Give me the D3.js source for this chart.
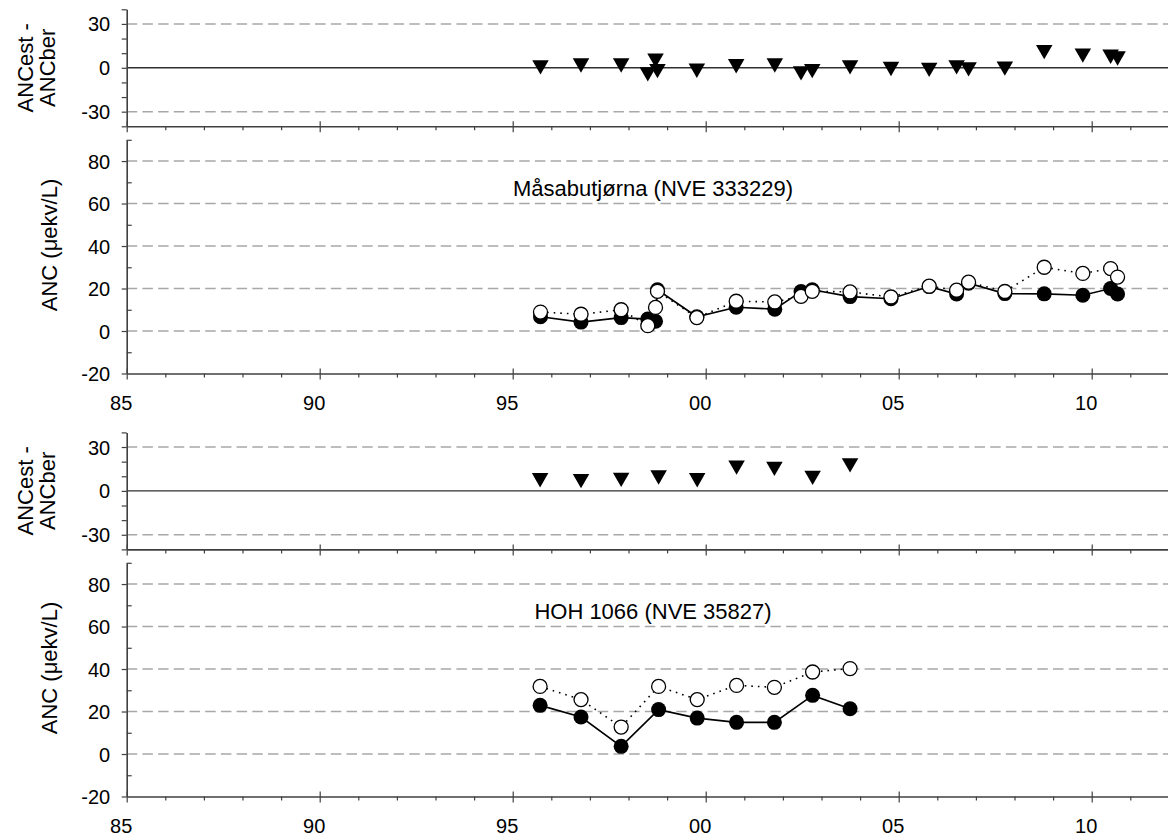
<!DOCTYPE html>
<html><head><meta charset="utf-8">
<script src="https://cdn.jsdelivr.net/npm/d3@7"></script>
<style>
body{margin:0;background:#fff}
svg{display:block}
text{font-family:"Liberation Sans", Arial, sans-serif; fill:#000}
</style>
</head><body>
<svg id="chart" width="1168" height="837"></svg>
<script>
// ---------------- data ----------------
const yearDomain = [85, 112];
const yearMajorTicks = [85, 90, 95, 100, 105, 110];
const yearTickLabels = ["85", "90", "95", "00", "05", "10"];
const diffTickValues = [-30, 0, 30];
const ancTickValues = [-20, 0, 20, 40, 60, 80];

const site1Name = "Måsabutjørna (NVE 333229)";
const site1Years = [95.72, 96.77, 97.81, 98.50, 98.70, 98.75, 99.77, 100.79, 101.79, 102.47, 102.76,
                    103.74, 104.80, 105.79, 106.50, 106.81, 107.75, 108.77, 109.77, 110.49, 110.67];
const site1Est   = [8.9, 7.9, 10.0, 2.5, 11.1, 18.7, 6.3, 14.0, 13.7, 16.3, 18.7,
                    18.4, 16.0, 21.1, 19.2, 23.0, 18.6, 30.0, 27.1, 29.4, 25.4];
const site1Ber   = [6.7, 4.2, 6.3, 5.6, 4.6, 19.4, 6.7, 11.2, 10.3, 18.6, 19.4,
                    16.2, 15.2, 20.9, 17.4, 22.5, 17.6, 17.5, 16.8, 20.0, 17.4];
const site1Diff  = [1.9, 3.2, 3.2, -2.9, 6.6, -0.7, -0.4, 2.7, 3.2, -2.2, -0.7,
                    1.9, 0.8, 0.2, 1.9, 0.5, 1.1, 12.3, 9.9, 9.2, 8.0];

const site2Name = "HOH 1066 (NVE 35827)";
const site2Years = [95.71, 96.77, 97.81, 98.78, 99.78, 100.80, 101.78, 102.77, 103.74];
const site2Est   = [31.8, 25.6, 12.7, 31.8, 25.6, 32.3, 31.4, 38.6, 40.2];
const site2Ber   = [22.9, 17.4, 3.6, 20.9, 16.9, 14.9, 14.9, 27.6, 21.3];
const site2Diff  = [8.9, 8.3, 9.2, 10.8, 8.9, 17.6, 16.7, 10.6, 19.1];

// ---------------- layout ----------------
const svg = d3.select("#chart");
const W = 1168;
const x = d3.scaleLinear().domain(yearDomain).range([126.7, 1168.9]);
const AXIS = "#404040", GRID = "#a8a8a8";
const FONT = 20;

function xAxis(g, yPos, withLabels) {
  const minor = d3.range(yearDomain[0], yearDomain[1] + 1).filter(v => !yearMajorTicks.includes(v));
  g.append("g").attr("transform", `translate(0,${yPos})`)
    .call(d3.axisBottom(x).tickValues(minor).tickSize(4).tickSizeOuter(0).tickFormat(""))
    .call(s => s.select(".domain").remove())
    .call(s => s.selectAll("line").attr("stroke", AXIS).attr("stroke-width", 1.2));
  const maj = g.append("g").attr("transform", `translate(0,${yPos})`)
    .call(d3.axisBottom(x).tickValues(yearMajorTicks).tickSize(6).tickSizeOuter(0)
      .tickFormat((d, i) => withLabels ? yearTickLabels[i] : ""));
  maj.select(".domain").attr("stroke", AXIS).attr("stroke-width", 1.6);
  maj.selectAll("line").attr("stroke", AXIS).attr("stroke-width", 1.2).attr("y1", -5);
  maj.selectAll("text").attr("x", -6).attr("y", 22).attr("dy", "0.71em")
    .style("font-size", FONT + "px").attr("fill", "#000");
}

function yAxis(g, y, majors, minorStep, minorInside) {
  const dom = y.domain();
  const minors = d3.range(dom[0], dom[1] + 0.001, minorStep).filter(v => !majors.includes(v));
  g.append("g").attr("transform", `translate(${x.range()[0]},0)`)
    .call(d3.axisLeft(y).tickValues(minors).tickSize(minorInside ? -5 : 5).tickSizeOuter(0).tickFormat(""))
    .call(s => s.select(".domain").remove())
    .call(s => s.selectAll("line").attr("stroke", AXIS).attr("stroke-width", 1.2));
  const maj = g.append("g").attr("transform", `translate(${x.range()[0]},0)`)
    .call(d3.axisLeft(y).tickValues(majors).tickSize(5).tickSizeOuter(0).tickFormat(d => String(d)));
  maj.select(".domain").attr("stroke", AXIS).attr("stroke-width", 1.6);
  maj.selectAll("line").attr("stroke", AXIS).attr("stroke-width", 1.2);
  maj.selectAll("text").attr("x", -16.5).attr("dy", "0.35em")
    .style("font-size", FONT + "px").attr("fill", "#000");
}

function gridLines(g, y, vals) {
  g.append("g").selectAll("line").data(vals).join("line")
    .attr("x1", x.range()[0]).attr("x2", W)
    .attr("y1", d => y(d)).attr("y2", d => y(d))
    .attr("stroke", GRID).attr("stroke-width", 1.5).attr("stroke-dasharray", "10.5,5.2");
}

function rotLabel(g, tx, ty, txt) {
  g.append("text").attr("transform", `translate(${tx},${ty}) rotate(-90)`)
    .attr("text-anchor", "middle").style("font-size", "22px").text(txt);
}

function diffPanel(offset, years, diff) {
  const g = svg.append("g");
  const y = d3.scaleLinear().domain([-40, 40]).range([126.3 + offset, 9.3 + offset]);
  gridLines(g, y, [-30, 30]);
  g.append("line").attr("x1", x.range()[0]).attr("x2", W)
    .attr("y1", y(0)).attr("y2", y(0)).attr("stroke", "#303030").attr("stroke-width", 1.4);
  yAxis(g, y, diffTickValues, 10, false);
  xAxis(g, y.range()[0], false);
  rotLabel(g, 33, y(0), "ANCest -");
  rotLabel(g, 55, y(0), "ANCber");
  const tri = d3.symbol().type(d3.symbolTriangle).size(118);
  g.append("g").selectAll("path").data(years.map((yr, i) => [yr, diff[i]])).join("path")
    .attr("d", tri)
    .attr("transform", d => `translate(${x(d[0])},${y(d[1])}) rotate(180)`)
    .attr("fill", "#000");
}

function ancPanel(offset, years, est, ber, name) {
  const g = svg.append("g");
  const y = d3.scaleLinear().domain([-20, 90]).range([373.5 + offset, 139.8 + offset]);
  gridLines(g, y, [0, 20, 40, 60, 80]);
  yAxis(g, y, ancTickValues, 10, true);
  xAxis(g, y.range()[0], true);
  rotLabel(g, 57, 245 + offset, "ANC (μekv/L)");
  g.append("text").attr("x", 653).attr("y", 196 + offset).attr("text-anchor", "middle")
    .style("font-size", "22px").text(name);

  const estPts = years.map((yr, i) => [yr, est[i]]);
  const berPts = years.map((yr, i) => [yr, ber[i]]);
  const line = d3.line().x(d => x(d[0])).y(d => y(d[1]));
  g.append("path").attr("d", line(estPts)).attr("fill", "none")
    .attr("stroke", "#000").attr("stroke-width", 1.6).attr("stroke-dasharray", "1.6,5");
  g.append("path").attr("d", line(berPts)).attr("fill", "none")
    .attr("stroke", "#000").attr("stroke-width", 1.6);
  g.append("g").selectAll("circle").data(berPts).join("circle")
    .attr("cx", d => x(d[0])).attr("cy", d => y(d[1])).attr("r", 7.5)
    .attr("fill", "#000");
  g.append("g").selectAll("circle").data(estPts).join("circle")
    .attr("cx", d => x(d[0])).attr("cy", d => y(d[1])).attr("r", 7)
    .attr("fill", "#fff").attr("stroke", "#000").attr("stroke-width", 1.3);
}

diffPanel(0, site1Years, site1Diff);
ancPanel(0, site1Years, site1Est, site1Ber, site1Name);
diffPanel(423.1, site2Years, site2Diff);
ancPanel(423.0, site2Years, site2Est, site2Ber, site2Name);
</script>
</body></html>
